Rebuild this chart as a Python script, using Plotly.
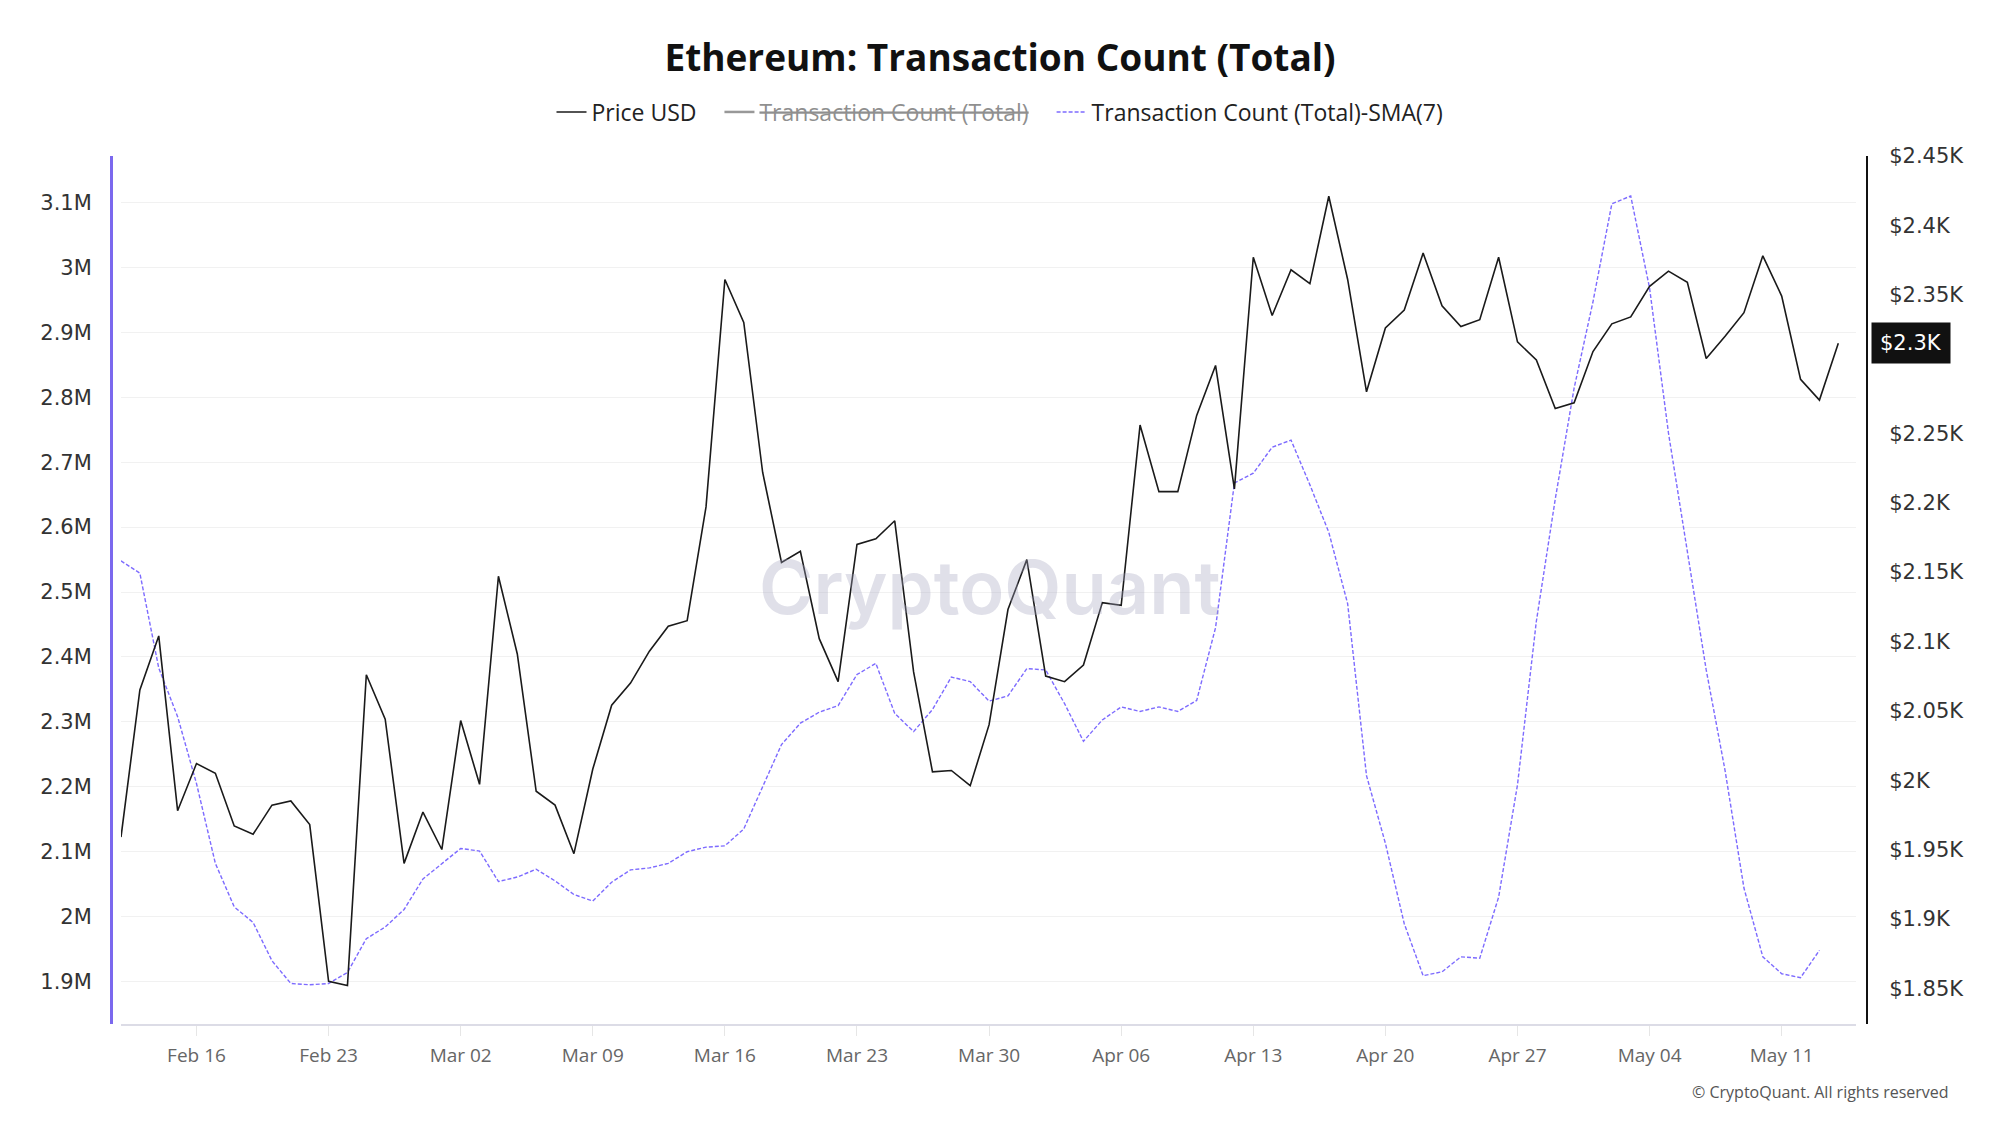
import pandas as pd
import plotly.graph_objects as go

# ---------------- data ----------------
dates = pd.date_range("2025-02-12", periods=92, freq="D")

price_usd = [
    1959, 2065, 2104, 1978, 2012, 2005, 1967, 1961, 1982, 1985,
    1968, 1855, 1852, 2076, 2044, 1940, 1977, 1950, 2043, 1997,
    2147, 2091, 1992, 1982, 1947, 2008, 2054, 2070, 2093, 2111,
    2115, 2197, 2361, 2330, 2222, 2157, 2165, 2102, 2071, 2170,
    2174, 2187, 2078, 2006, 2007, 1996, 2040, 2123, 2159, 2075,
    2071, 2083, 2128, 2126, 2256, 2208, 2208, 2263, 2299, 2210,
    2377, 2335, 2368, 2358, 2421, 2361, 2280, 2326, 2339, 2380,
    2342, 2327, 2332, 2377, 2316, 2303, 2268, 2272, 2309, 2329,
    2334, 2356, 2367, 2359, 2304, 2320, 2337, 2378, 2349, 2289,
    2274, 2315,
]

tx_count_sma7 = [
    2548000, 2529000, 2383000, 2308000, 2205000, 2082000, 2015000, 1991000, 1932000, 1897000,
    1895000, 1897000, 1914000, 1966000, 1984000, 2011000, 2058000, 2081000, 2105000, 2101000,
    2054000, 2061000, 2073000, 2055000, 2034000, 2024000, 2053000, 2072000, 2075000, 2082000,
    2100000, 2107000, 2109000, 2135000, 2199000, 2265000, 2298000, 2315000, 2325000, 2373000,
    2390000, 2313000, 2285000, 2319000, 2369000, 2362000, 2332000, 2340000, 2382000, 2380000,
    2328000, 2270000, 2303000, 2323000, 2316000, 2323000, 2316000, 2333000, 2445000, 2668000,
    2683000, 2723000, 2734000, 2665000, 2592000, 2482000, 2217000, 2113000, 1989000, 1909000,
    1915000, 1938000, 1936000, 2030000, 2203000, 2455000, 2643000, 2814000, 2947000, 3098000,
    3110000, 2968000, 2745000, 2560000, 2380000, 2225000, 2044000, 1938000, 1912000, 1906000,
    1948000, None,
]

# hidden (legend-only) series: its values are not shown in the chart
tx_count_total = [None] * len(dates)

series_names = ["Price USD", "Transaction Count (Total)", "Transaction Count (Total)-SMA(7)"]

left_tick_vals = [1.9e6, 2.0e6, 2.1e6, 2.2e6, 2.3e6, 2.4e6, 2.5e6, 2.6e6, 2.7e6, 2.8e6, 2.9e6, 3.0e6, 3.1e6]
left_tick_text = ["1.9M", "2M", "2.1M", "2.2M", "2.3M", "2.4M", "2.5M", "2.6M", "2.7M", "2.8M", "2.9M", "3M", "3.1M"]

right_tick_vals = [1850, 1900, 1950, 2000, 2050, 2100, 2150, 2200, 2250, 2350, 2400, 2450]
right_tick_text = ["$1.85K", "$1.9K", "$1.95K", "$2K", "$2.05K", "$2.1K", "$2.15K", "$2.2K",
                   "$2.25K", "$2.35K", "$2.4K", "$2.45K"]

# ---------------- figure ----------------
W, H = 2000, 1125
x0_px, x1_px = 121, 1856
ytop_px, ybot_px = 156, 1024
TICK_FONT = "DejaVu Sans"
GAP = "\u00a0" * 3

fig = go.Figure()

fig.add_trace(go.Scatter(
    x=dates, y=price_usd, name=series_names[0] + GAP, mode="lines",
    line=dict(color="#1a1a1a", width=1.6), yaxis="y2",
))
fig.add_trace(go.Scatter(
    x=dates, y=tx_count_total, name="<s>" + series_names[1] + "</s>" + GAP, mode="lines",
    line=dict(color="#333333", width=2.5), visible="legendonly", yaxis="y",
))
fig.add_trace(go.Scatter(
    x=dates, y=tx_count_sma7, name=series_names[2], mode="lines",
    line=dict(color="#7d6bff", width=1.4, dash="4px,2px"), yaxis="y",
))

fig.update_layout(
    template="none",
    width=W, height=H,
    margin=dict(l=0, r=0, t=0, b=0, autoexpand=False),
    paper_bgcolor="white", plot_bgcolor="white",
    showlegend=True,
    hovermode="x",
    title=dict(
        text="<b>Ethereum: Transaction Count (Total)</b>",
        x=0.5, xanchor="center", y=1 - 58 / H, yanchor="middle",
        font=dict(family="Open Sans", size=37, color="#111111"),
    ),
    legend=dict(
        orientation="h", x=0.5, xanchor="center", y=1 - 112 / H, yanchor="middle",
        font=dict(family="Open Sans", size=23, color="#222222"),
        itemwidth=30, bgcolor="rgba(0,0,0,0)", borderwidth=0,
    ),
    xaxis=dict(
        domain=[x0_px / W, x1_px / W],
        range=[dates[0], dates[-1] + pd.Timedelta(hours=22.5)],
        type="date", automargin=False,
        tick0="2025-02-16", dtick=7 * 86400000, tickformat="%b %d",
        showgrid=False, zeroline=False,
        showline=True, linecolor="#dcdce6", linewidth=1.5,
        ticks="outside", ticklen=10, tickcolor="#e6e6e6", tickwidth=1,
        tickfont=dict(family="Open Sans", size=19, color="#666666"),
        ticklabelstandoff=3,
        anchor="y",
    ),
    yaxis=dict(
        domain=[1 - ybot_px / H, 1 - ytop_px / H],
        range=[1834600, 3171600], automargin=False,
        tickvals=left_tick_vals, ticktext=left_tick_text,
        showgrid=True, gridcolor="#f1f1f1", gridwidth=1,
        zeroline=False,
        showline=True, linecolor="#7b68ee", linewidth=3,
        anchor="free", position=111 / W, side="left",
        ticks="", ticklabelstandoff=14,
        tickfont=dict(family=TICK_FONT, size=21, color="#333333"),
    ),
    yaxis2=dict(
        domain=[1 - ybot_px / H, 1 - ytop_px / H],
        range=[1824.2, 2450], automargin=False,
        overlaying="y", side="right",
        tickvals=right_tick_vals, ticktext=right_tick_text,
        showgrid=False, zeroline=False,
        showline=True, linecolor="#111111", linewidth=2,
        anchor="free", position=1867 / W,
        ticks="", ticklabelstandoff=17,
        tickfont=dict(family=TICK_FONT, size=21, color="#333333"),
    ),
)

last_price = price_usd[-1]
fig.add_annotation(
    xref="paper", yref="y2", x=1871 / W, y=last_price,
    xanchor="left", yanchor="middle",
    text=f"${last_price / 1000:.1f}K", showarrow=False,
    font=dict(family=TICK_FONT, size=21, color="white"),
    bgcolor="#111111", borderpad=8,
)

fig.add_annotation(
    xref="paper", yref="paper", x=990 / W, y=1 - 587 / H,
    xanchor="center", yanchor="middle",
    text="CryptoQuant", showarrow=False,
    font=dict(family="Inter", size=74, color="rgba(165,165,190,0.34)", weight=600),
)

fig.add_annotation(
    xref="paper", yref="paper", x=1951 / W, y=1 - 1092 / H,
    xanchor="right", yanchor="middle",
    text="© CryptoQuant. All rights reserved", showarrow=False,
    font=dict(family="Open Sans", size=16, color="#555555"),
)

fig.write_html("out.html")
